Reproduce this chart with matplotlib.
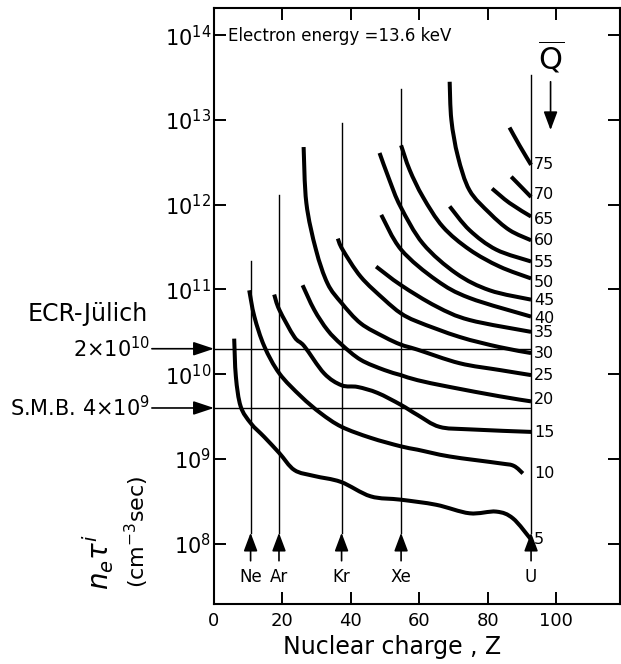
import numpy as np
import matplotlib.pyplot as plt
from matplotlib.path import Path
from matplotlib.patches import PathPatch

# ionisation curves, one per mean charge state Q-bar
# Z = nuclear charge, log10 of n_e*tau_i in cm^-3 sec
q5_z = [5.9, 6.4, 7.8, 10.8, 14.7, 19.1, 23.5, 29.3, 37.1, 45.8, 54.7, 65.0, 74.7, 82.5, 87.4, 92.7]
q5_log = [10.42, 9.97, 9.62, 9.42, 9.26, 9.07, 8.87, 8.80, 8.73, 8.56, 8.52, 8.46, 8.36, 8.38, 8.30, 8.05]

q10_z = [10.3, 11.8, 14.7, 19.1, 25.4, 31.2, 37.3, 45.8, 54.6, 59.5, 68.9, 83.5, 87.6, 90.3]
q10_log = [10.99, 10.68, 10.33, 10.01, 9.74, 9.54, 9.38, 9.25, 9.15, 9.11, 9.03, 8.95, 8.92, 8.83]

q15_z = [17.6, 19.1, 23.5, 26.4, 32.2, 37.3, 42.0, 47.8, 54.6, 59.5, 65.9, 74.7, 92.7]
q15_log = [10.94, 10.76, 10.44, 10.33, 10.01, 9.87, 9.85, 9.78, 9.64, 9.52, 9.38, 9.35, 9.32]

q20_z = [25.9, 29.3, 33.2, 37.3, 42.9, 49.8, 54.6, 59.5, 68.9, 83.5, 92.7]
q20_log = [11.05, 10.76, 10.52, 10.35, 10.17, 10.05, 9.99, 9.93, 9.85, 9.74, 9.68]

q25_z = [26.2, 27.0, 29.8, 33.2, 37.3, 42.9, 49.8, 54.6, 59.5, 71.8, 83.5, 92.7]
q25_log = [12.68, 12.02, 11.47, 11.07, 10.84, 10.60, 10.44, 10.35, 10.29, 10.13, 10.05, 9.99]

q30_z = [36.2, 37.6, 42.9, 49.8, 54.6, 59.5, 71.8, 83.5, 92.7]
q30_log = [11.60, 11.47, 11.15, 10.88, 10.72, 10.62, 10.44, 10.32, 10.25]

q35_z = [47.4, 54.7, 65.0, 74.7, 92.7]
q35_log = [11.27, 11.05, 10.80, 10.64, 10.50]

q40_z = [48.9, 54.7, 65.0, 74.7, 92.7]
q40_log = [11.88, 11.47, 11.11, 10.90, 10.68]

q45_z = [48.4, 51.3, 54.5, 61.1, 70.8, 80.6, 92.7]
q45_log = [12.61, 12.29, 11.98, 11.54, 11.19, 10.99, 10.88]

q50_z = [54.7, 57.2, 61.1, 66.9, 74.7, 83.5, 92.7]
q50_log = [12.70, 12.41, 12.09, 11.74, 11.47, 11.27, 11.13]

q55_z = [68.9, 74.7, 82.5, 92.7]
q55_log = [11.98, 11.70, 11.47, 11.33]

q60_z = [68.9, 69.4, 71.3, 74.7, 80.6, 86.4, 92.7]
q60_log = [13.45, 13.00, 12.57, 12.17, 11.90, 11.70, 11.58]

q65_z = [81.3, 86.4, 92.7]
q65_log = [12.19, 12.02, 11.86]

q70_z = [86.9, 90.3, 92.7]
q70_log = [12.33, 12.19, 12.09]

q75_z = [86.4, 89.3, 92.7]
q75_log = [12.91, 12.70, 12.47]

curves = [(q5_z, q5_log), (q10_z, q10_log), (q15_z, q15_log), (q20_z, q20_log),
          (q25_z, q25_log), (q30_z, q30_log), (q35_z, q35_log), (q40_z, q40_log),
          (q45_z, q45_log), (q50_z, q50_log), (q55_z, q55_log), (q60_z, q60_log),
          (q65_z, q65_log), (q70_z, q70_log), (q75_z, q75_log)]

# Q-bar labels on the right
q_labels = ['75', '70', '65', '60', '55', '50', '45', '40', '35', '30', '25', '20', '15', '10', '5']
q_label_log = [12.47, 12.12, 11.83, 11.58, 11.32, 11.08, 10.87, 10.66, 10.49, 10.25, 9.99, 9.70, 9.31, 8.83, 8.05]

# elements marked by thin vertical lines (positions as drawn)
element_names = ['Ne', 'Ar', 'Kr', 'Xe', 'U']
element_z = [10.7, 19.0, 37.3, 54.7, 92.7]
element_top_log = [11.33, 12.11, 12.96, 13.37, 13.53]

# source performance levels
source_names = ['ECR-Jülich', 'S.M.B.']
source_values = [2e10, 4e9]
source_texts = ['2×10$^{10}$', 'S.M.B. 4×10$^{9}$']


def smooth_path(z, lg):
    # cubic bezier pieces through the read points (drawn in Z / log space)
    p = np.column_stack([z, lg]).astype(float)
    verts = [p[0]]
    codes = [Path.MOVETO]
    n = len(p)
    for i in range(n - 1):
        p0 = p[i - 1] if i > 0 else p[i]
        p3 = p[i + 2] if i + 2 < n else p[i + 1]
        c1 = p[i] + (p[i + 1] - p0) / 6
        c2 = p[i + 1] - (p3 - p[i]) / 6
        verts += [c1, c2, p[i + 1]]
        codes += [Path.CURVE4] * 3
    verts = np.array(verts)
    verts[:, 1] = 10 ** verts[:, 1]
    return Path(verts, codes)


fig = plt.figure(figsize=(6.21, 6.64), dpi=100)
ax = fig.add_axes([214 / 621, 60 / 664, 406 / 621, 596 / 664])
ax.set_yscale('log')
ax.set_xlim(0, 118.7)
ax.set_ylim(10 ** 7.29, 10 ** 14.32)

for z, lg in curves:
    ax.add_patch(PathPatch(smooth_path(z, lg), fill=False, color='k', lw=2.9,
                           capstyle='butt', joinstyle='round'))

# thin element lines, with arrows and names at the bottom
for name, z, top in zip(element_names, element_z, element_top_log):
    ax.plot([z, z], [10 ** 8.13, 10 ** top], color='k', lw=1.0)
    ax.annotate('', xy=(z, 10 ** 8.13), xytext=(z, 10 ** 7.80),
                arrowprops=dict(arrowstyle='-|>,head_length=0.8,head_width=0.3',
                                mutation_scale=14, lw=1.2, color='k',
                                shrinkA=0, shrinkB=0))
    ax.text(z, 10 ** 7.61, name, ha='center', va='center', fontsize=12)

# horizontal source lines and arrows from the left
ax.hlines(source_values, 0, element_z[-1], color='k', lw=1.0)
for val, txt in zip(source_values, source_texts):
    ax.annotate('', xy=(0, val), xycoords=('axes fraction', 'data'),
                xytext=(-0.153, val), textcoords=('axes fraction', 'data'),
                arrowprops=dict(arrowstyle='-|>,head_length=0.9,head_width=0.3',
                                mutation_scale=14, lw=1.2, color='k',
                                shrinkA=0, shrinkB=0), annotation_clip=False)
    ax.text(-0.158, val, txt, transform=ax.get_yaxis_transform(), ha='right',
            va='center', fontsize=15, clip_on=False)
ax.text(-0.162, source_values[0] * 10 ** 0.41, source_names[0],
        transform=ax.get_yaxis_transform(), ha='right', va='center',
        fontsize=17, clip_on=False)

for lab, lg in zip(q_labels, q_label_log):
    ax.text(93.6, 10 ** lg, lab, ha='left', va='center', fontsize=11.5)

ax.text(98.4, 10 ** 13.74, r'$\overline{\mathrm{Q}}$', ha='center', va='center', fontsize=22)
ax.annotate('', xy=(98.4, 10 ** 12.88), xytext=(98.4, 10 ** 13.45),
            arrowprops=dict(arrowstyle='-|>,head_length=0.8,head_width=0.3',
                            mutation_scale=14, lw=1.2, color='k',
                            shrinkA=0, shrinkB=0))

ax.text(4.0, 10 ** 13.99, 'Electron energy =13.6 keV', ha='left', va='center', fontsize=12)

ax.set_xticks([0, 20, 40, 60, 80, 100])
ax.set_yticks([10.0 ** k for k in range(8, 15)])
ax.minorticks_off()
ax.tick_params(direction='in', length=8.5, width=1.4, top=True, right=True)
ax.tick_params(axis='x', labelsize=13, pad=6)
ax.tick_params(axis='y', labelsize=15, pad=2)
for s in ax.spines.values():
    s.set_linewidth(1.5)

ax.set_xlabel('Nuclear charge , Z', fontsize=17)
ax.xaxis.set_label_coords(0.438, -0.052)
fig.text(98 / 621, 1 - 590 / 664, r'$n_e\tau^i$', rotation=90, ha='center',
         va='bottom', fontsize=20)
fig.text(137 / 621, 1 - 588 / 664, '(cm$^{-3}$sec)', rotation=90, ha='center',
         va='bottom', fontsize=16)

fig.savefig('out.png', dpi=100)
